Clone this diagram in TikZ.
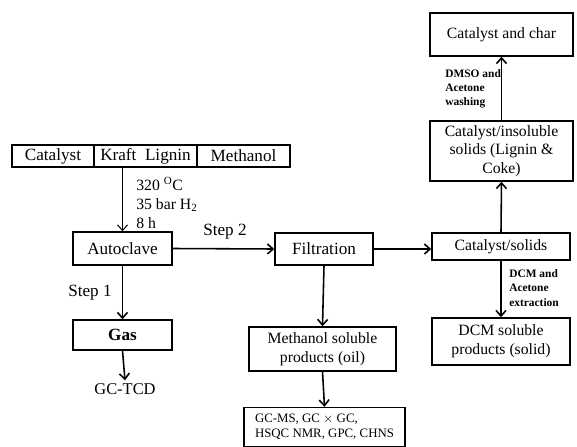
\documentclass[tikz,border=0pt]{standalone}
\usepackage{fontspec}
\setmainfont{Liberation Serif}
\usetikzlibrary{arrows.meta}

\begin{document}
\begin{tikzpicture}[x=0.7pt, y=-0.7pt,
    box/.style={draw, line width=1pt, align=center, inner sep=1pt, font=\fontsize{11}{13}\selectfont},
    flow/.style={-{Straight Barb[length=4pt,width=7pt]}, line width=1.1pt},
    note/.style={font=\fontsize{8}{10}\selectfont\bfseries, align=left, inner sep=0pt}]
    \useasboundingbox (0,0) rectangle (577,447);
    \node[box, font=\fontsize{12}{14}\selectfont, minimum width=57.4pt, minimum height=15.4pt] (cat) at (53,156) {Catalyst};
    \node[box, font=\fontsize{12}{14}\selectfont, minimum width=72.1pt, minimum height=15.4pt] (kl) at (145.5,156) {Kraft\ \ Lignin};
    \node[box, font=\fontsize{12}{14}\selectfont, minimum width=65.1pt, minimum height=15.4pt] (meth) at (243.5,156) {Methanol};
    \node[box, font=\fontsize{12}{14}\selectfont, minimum width=69.3pt, minimum height=23.1pt] (auto) at (122.5,248.5) {Autoclave};
    \node[box, font=\fontsize{12}{14}\selectfont\bfseries, minimum width=69.3pt, minimum height=21pt] (gas) at (122.5,335) {Gas};
    \node[font=\fontsize{11.5}{14}\selectfont, inner sep=2pt] (gctcd) at (125,389) {GC-TCD};
    \node[box, font=\fontsize{12}{14}\selectfont, minimum width=68.6pt, minimum height=22.4pt] (filt) at (324,249) {Filtration};
    \node[box, minimum width=102.9pt, minimum height=30.8pt] (oil) at (322.5,349) {Methanol soluble\\products (oil)};
    \node[box, font=\fontsize{9}{10.5}\selectfont, align=left, minimum width=112.7pt, minimum height=27.3pt] (gcms) at (324.5,427) {GC-MS, GC $\times$ GC,\\HSQC NMR, GPC, CHNS};
    \node[box, minimum width=96.6pt, minimum height=18.9pt] (solids) at (501,246.5) {Catalyst/solids};
    \node[box, minimum width=96.6pt, minimum height=32.9pt] (dcm) at (501,341.5) {DCM soluble\\products (solid)};
    \node[box, minimum width=100.1pt, minimum height=42pt] (insol) at (501.5,151) {Catalyst/insoluble\\solids (Lignin \&\\Coke)};
    \node[box, minimum width=100.1pt, minimum height=30.1pt] (char) at (501.5,34.5) {Catalyst and char};
    \draw[flow, line width=0.7pt] (kl.south -| auto) -- (auto.north);
    \node[font=\fontsize{11}{13.3}\selectfont, align=left, anchor=west, inner sep=0pt] (cond) at (136,203) {320 \textsuperscript{O}C\\35 bar H\textsubscript{2}\\8 h};
    \draw[flow] (auto.east) -- (filt.west);
    \node[font=\fontsize{12}{14}\selectfont] (step2) at (225,232) {Step 2};
    \draw[flow] (auto.south) -- (gas.north);
    \node[font=\fontsize{12}{14}\selectfont] (step1) at (90,293) {Step 1};
    \draw[flow] (gas.south) -- (gctcd.north);
    \draw[flow] (filt.south) -- (oil.north);
    \draw[flow] (oil.south) -- (gcms.north);
    \draw[flow] (filt.east) -- (filt.east -| solids.west);
    \draw[flow] (solids.south) -- (dcm.north);
    \node[note, anchor=west] (dcmnote) at (509,288) {DCM and\\Acetone\\extraction};
    \draw[flow] (solids.north) -- (insol.south);
    \draw[flow] (insol.north) -- (char.south);
    \node[note, anchor=west] (dmsonote) at (445,89) {DMSO and\\Acetone\\washing};
\end{tikzpicture}
\end{document}
